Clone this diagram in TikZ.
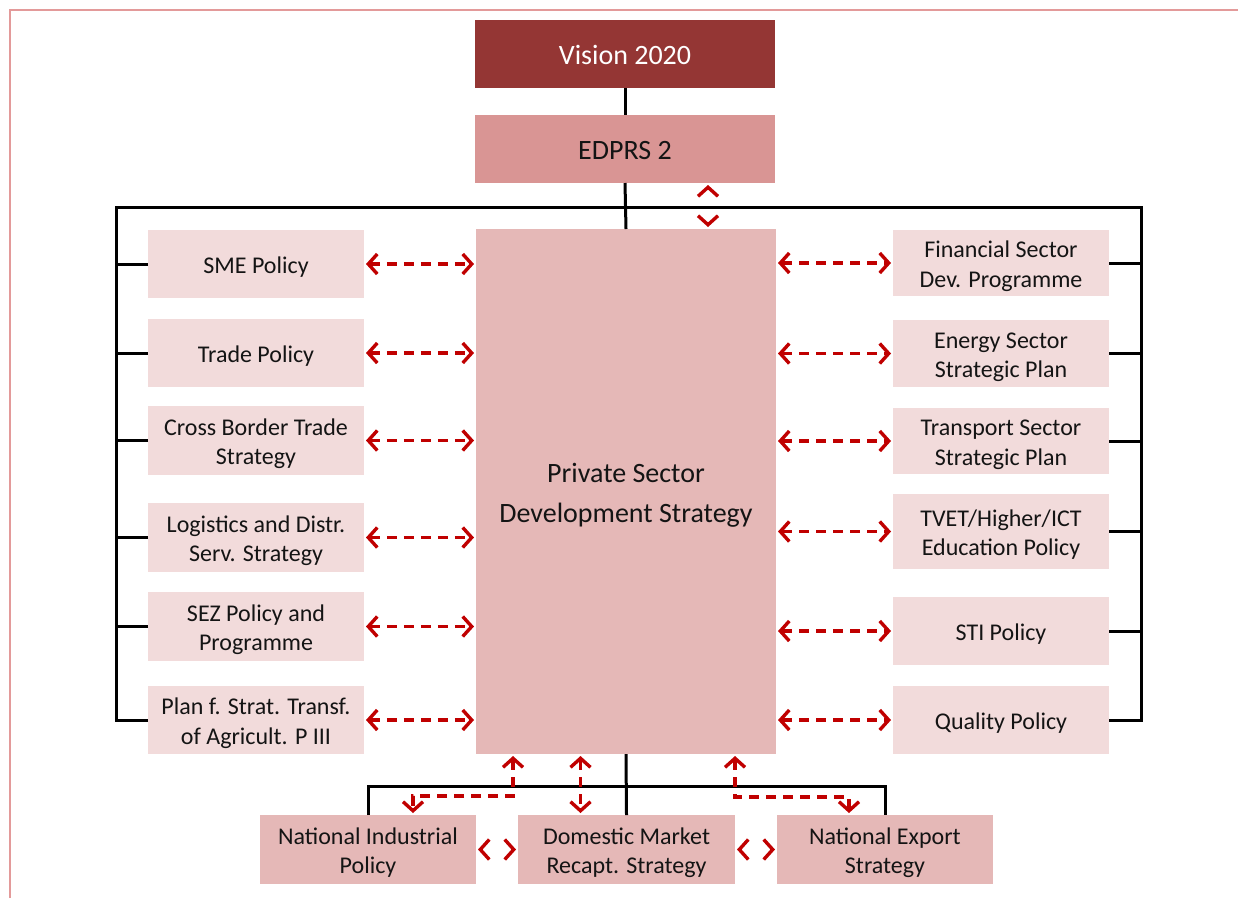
\documentclass[tikz,border=0pt]{standalone}
\usepackage{fontspec}
\setmainfont{Carlito}
\usetikzlibrary{arrows.meta}

\definecolor{visionred}{HTML}{943634}
\definecolor{edprsfill}{HTML}{D99594}
\definecolor{psdsfill}{HTML}{E5B8B7}
\definecolor{sidefill}{HTML}{F2DBDB}
\definecolor{arrowred}{HTML}{C00000}
\definecolor{frameline}{HTML}{E39A9A}
\definecolor{ink}{HTML}{141414}

\begin{document}
\begin{tikzpicture}[x=1pt,y=-1pt,
  % struts give the text block a fixed ascent and descent
  box/.style={inner sep=0pt, outer sep=0pt, anchor=north west, align=center,
    text=ink, font=\fontsize{24}{29.5}\selectfont,
    execute at begin node={\rule{0pt}{1.02em}},
    execute at end node={\rule[-0.25em]{0pt}{0.25em}}},
  twoline/.style={execute at begin node={\rule{0pt}{\dimexpr\baselineskip+1.02em\relax}}},
  bigbox/.style={box, minimum width=300pt, minimum height=68pt,
    font=\fontsize{28}{40}\selectfont},
  sidebox/.style={box, fill=sidefill, minimum width=216pt},
  lowbox/.style={box, twoline, fill=psdsfill, minimum width=216pt, minimum height=69pt},
  link/.style={draw=black, line width=3pt, line join=miter},
  tip/.tip={Straight Barb[length=9pt, width=20pt, line width=3.4pt]},
  darr/.style={draw=arrowred, line width=3.4pt, dash pattern=on 10pt off 7pt,
    tip-tip, shorten <=2pt, shorten >=2pt},
  tipsonly/.style={darr, dash pattern=on 0pt off 300pt}
]
\useasboundingbox (0,0) rectangle (1238,898);

% frame edges
\draw[frameline, line width=2pt] (10,898) -- (10,10) -- (1238,10);

% top of the hierarchy
\node[bigbox, fill=visionred, text=white] (vision) at (475,20) {Vision 2020};
\node[bigbox, fill=edprsfill] (edprs) at (475,115) {EDPRS 2};
\node[bigbox, twoline, fill=psdsfill, minimum height=525pt] (psds) at (476,229)
  {Private Sector\\Development Strategy};

% left column
\node[sidebox, minimum height=68pt] (sme)   at (148,230) {SME Policy};
\node[sidebox, minimum height=68pt] (trade) at (148,319) {Trade Policy};
\node[sidebox, twoline, minimum height=69pt] (cross) at (148,406) {Cross Border Trade\\Strategy};
\node[sidebox, twoline, minimum height=69pt] (logi)  at (148,503) {Logistics and Distr.\\Serv. Strategy};
\node[sidebox, twoline, minimum height=69pt] (sez)   at (148,592) {SEZ Policy and\\Programme};
\node[sidebox, twoline, minimum height=68pt] (plan)  at (148,686) {Plan f. Strat. Transf.\\of Agricult. P III};

% right column
\node[sidebox, twoline, minimum height=66pt] (fin)       at (893,230) {Financial Sector\\Dev. Programme};
\node[sidebox, twoline, minimum height=67pt] (energy)    at (893,320) {Energy Sector\\Strategic Plan};
\node[sidebox, twoline, minimum height=66pt] (transport) at (893,408) {Transport Sector\\Strategic Plan};
\node[sidebox, twoline, minimum height=75pt] (tvet)      at (893,494) {TVET/Higher/ICT\\Education Policy};
\node[sidebox, minimum height=68pt] (sti)       at (893,597) {STI Policy};
\node[sidebox, minimum height=68pt] (quality)   at (893,686) {Quality Policy};

% bottom row
\node[lowbox] (ind) at (260,815) {National Industrial\\Policy};
\node[lowbox, minimum width=217pt] (dom) at (518,815) {Domestic Market\\Recapt. Strategy};
\node[lowbox] (exp) at (777,815) {National Export\\Strategy};

% bus lines
\coordinate (busL) at (116,207);
\coordinate (busR) at (1141,207);
\coordinate (bbus) at (0,786);

\draw[link] (vision.south) -- (edprs.north);
\draw[link] (edprs.south) -- (psds.north);
\draw[link] (plan.west) -- (plan.west -| busL) -- (busL) -- (busR)
  -- (quality.east -| busR) -- (quality.east);
\foreach \n in {sme,trade,cross,logi,sez}
  \draw[link] (\n.west) -- (\n.west -| busL);
\foreach \n in {fin,energy,transport,tvet,sti}
  \draw[link] (\n.east) -- (\n.east -| busR);

\draw[link] (psds.south) -- (dom.north);
\draw[link] (ind.north) -- (ind.north |- bbus) -- (exp.north |- bbus) -- (exp.north);

% links to the strategy
\draw[tipsonly] ([xshift=83pt]edprs.south) -- ([xshift=83pt]edprs.south |- psds.north);
\foreach \n in {sme,trade,cross,logi,sez,plan}
  \draw[darr] (\n.east) -- (\n.east -| psds.west);
\foreach \n in {fin,energy,transport,tvet,sti,quality}
  \draw[darr] (\n.west -| psds.east) -- (\n.west);

\draw[darr] ([xshift=-113pt]psds.south) -- ++(0,42) -| ([xshift=45pt]ind.north);
\draw[darr] ([xshift=-46pt]dom.north |- psds.south) -- ([xshift=-46pt]dom.north);
\draw[darr] ([xshift=109pt]psds.south) -- ++(0,43) -| ([xshift=-36pt]exp.north);

\draw[tipsonly] (ind.east) -- (dom.west);
\draw[tipsonly] (dom.east) -- (exp.west);
\end{tikzpicture}
\end{document}
